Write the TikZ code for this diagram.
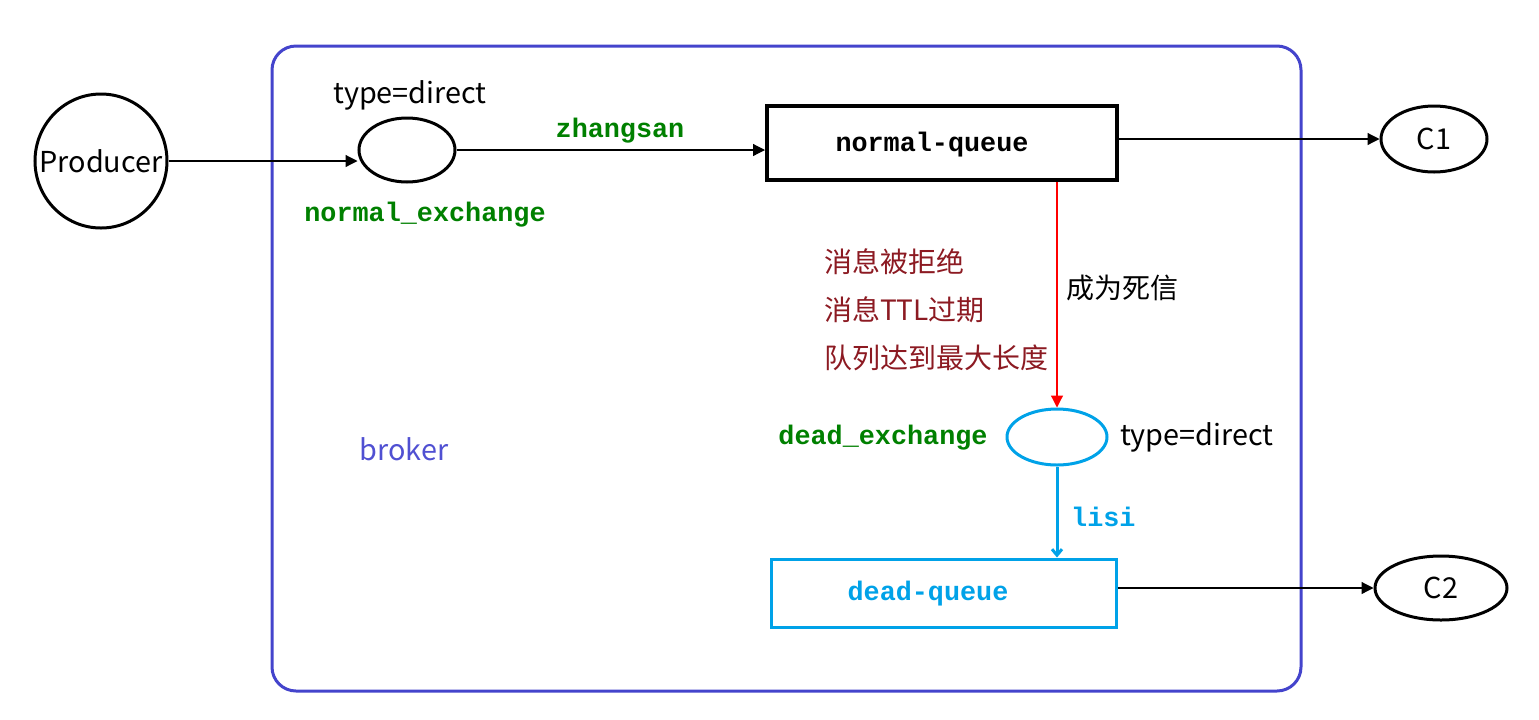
\documentclass[tikz,border=0pt]{standalone}
\usepackage{fontspec}
\setmainfont{Noto Sans CJK SC}
\newfontfamily\courf{Liberation Mono}
\usetikzlibrary{arrows.meta,shapes.geometric}
\definecolor{brokerc}{RGB}{68,68,204}
\definecolor{brokertxt}{RGB}{80,80,210}
\definecolor{greenc}{RGB}{0,128,0}
\definecolor{darkredc}{RGB}{140,26,34}
\definecolor{cyanc}{RGB}{0,162,232}
\tikzset{
  ell/.style={draw, ellipse, inner sep=0pt, line width=1.5pt},
  qbox/.style={draw, rectangle, inner sep=0pt},
  sans/.style={font=\fontsize{14.4}{17}\selectfont},
  cjk/.style={font=\fontsize{14}{17}\selectfont},
  mono/.style={font=\fontsize{13.4}{16}\selectfont\courf\bfseries},
  arr/.style={-{Triangle[length=6pt,width=6pt]}, line width=0.6pt},
}
\begin{document}
\begin{tikzpicture}[x=0.5pt,y=-0.5pt]
\useasboundingbox (0,0) rectangle (1539,719);
% broker
\node[draw=brokerc, line width=1.5pt, rounded corners=12pt, minimum width=514.5pt, minimum height=322.5pt, inner sep=0pt] (broker) at (786.5,368.5) {};
\node[sans, text=brokertxt] (brokerlbl) at (404,449) {broker};
% producer
\node[ell, minimum width=66pt, minimum height=67pt, label={[sans]center:Producer}] (prod) at (101,161) {};
% normal exchange
\node[ell, minimum width=48pt, minimum height=32pt] (ex1) at (407,150) {};
\node[sans] (ex1type) at (410,95) {type=direct};
\node[mono, text=greenc] (ex1name) at (425,215) {normal\_exchange};
% normal queue
\node[qbox, line width=2pt, minimum width=175pt, minimum height=37pt] (q1) at (942,143) {};
\node[mono] (q1name) at (932,145) {normal-queue};
% C1
\node[ell, minimum width=53pt, minimum height=33pt, label={[sans]center:C1}] (c1) at (1434,139) {};
% dead exchange
\node[ell, draw=cyanc, minimum width=50pt, minimum height=28pt] (dex) at (1057,437) {};
\node[mono, text=greenc] (dexname) at (883,438) {dead\_exchange};
\node[sans, anchor=west] (dextype) at (1113,437) {type=direct};
% dead queue
\node[qbox, draw=cyanc, line width=1.5pt, minimum width=172.5pt, minimum height=34pt] (dq) at (943.5,593) {};
\node[mono, text=cyanc] (dqname) at (928,594) {dead-queue};
% C2
\node[ell, minimum width=66pt, minimum height=32pt, label={[sans]center:C2}] (c2) at (1441,588) {};
% reasons
\node[cjk, text=darkredc, anchor=west] (r1) at (817,262) {消息被拒绝};
\node[cjk, text=darkredc, anchor=west] (r2) at (817,310) {消息TTL过期};
\node[cjk, text=darkredc, anchor=west] (r3) at (817,358) {队列达到最大长度};
\node[cjk, anchor=west] (dl) at (1059,288) {成为死信};
% connectors
\coordinate (p1) at (prod.east);
\draw[arr] (p1) -- (p1 -| ex1.west);
\coordinate (e1) at (ex1.east);
\draw[arr] (e1) -- node[pos=0.53, above=0pt, mono, text=greenc] (zs) {zhangsan} (e1 -| q1.west);
\draw[arr] (q1.east |- c1.west) -- (c1.west);
\draw[-{Triangle[length=6pt,width=6pt]}, red, line width=0.6pt] (q1.south -| dex.north) -- (dex.north);
\draw[-{Straight Barb[length=3pt,width=5pt]}, cyanc, line width=1.5pt] (dex.south) -- node[pos=0.55, right=3pt, mono, text=cyanc] (ls) {lisi} (dex.south |- dq.north);
\draw[arr] (dq.east |- c2.west) -- (c2.west);
\end{tikzpicture}
\end{document}
